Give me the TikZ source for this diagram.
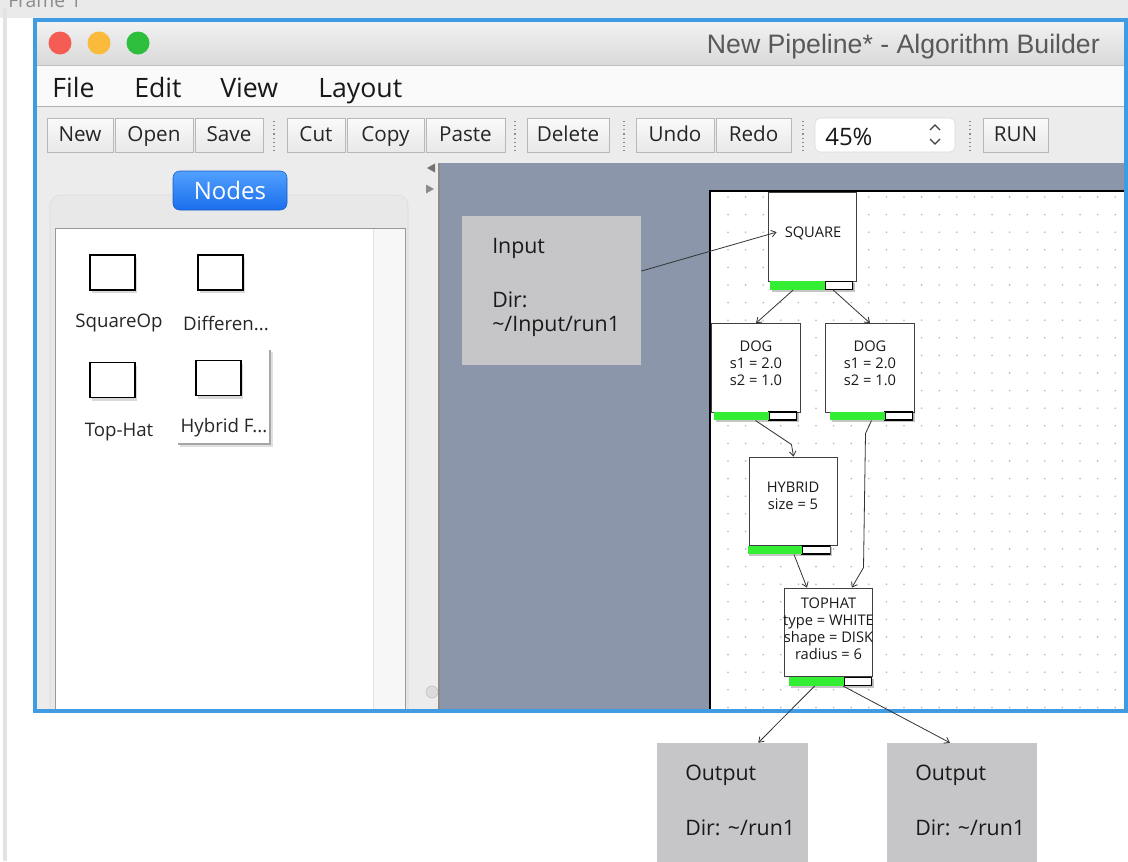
\documentclass[tikz,border=0pt]{standalone}
\usepackage{fontspec}
\setmainfont{Open Sans}
\newfontfamily\titlefont{Liberation Sans}
\usetikzlibrary{calc,shadows,arrows.meta}

\definecolor{frameblue}{RGB}{64,156,226}
\definecolor{winbg}{RGB}{236,236,236}
\definecolor{pagebg}{RGB}{234,234,234}
\definecolor{canvasbg}{RGB}{139,150,171}
\definecolor{boxgray}{RGB}{198,198,200}
\definecolor{barGreen}{RGB}{52,238,52}
\definecolor{btnline}{RGB}{184,184,184}
\definecolor{lightred}{RGB}{245,92,84}
\definecolor{lightyellow}{RGB}{250,186,60}
\definecolor{lightgreen}{RGB}{45,190,60}
\definecolor{nodestop}{RGB}{82,160,255}
\definecolor{nodesbot}{RGB}{26,110,235}

\begin{document}
\begin{tikzpicture}[x=0.75pt,y=-0.75pt,
  tb/.style={draw=btnline, top color=black!2, bottom color=black!9,
    minimum height=25.5pt, inner sep=0pt, text height=12.5pt, text depth=2.5pt,
    font=\fontsize{15.5}{18}\selectfont, text=black!85},
  menuitem/.style={anchor=base west, inner sep=0pt, font=\fontsize{20}{24}\selectfont, text=black!90},
  sepdots/.style={black!45, line width=0.9pt, dash pattern=on 0.9pt off 2.2pt},
  icon/.style={draw=black, line width=1.2pt, fill=white, minimum width=33.75pt,
    minimum height=26.25pt, inner sep=0pt,
    drop shadow={shadow xshift=1.5pt, shadow yshift=-2.5pt, opacity=0.3}},
  iconlabel/.style={font=\fontsize{14}{16}\selectfont, text=black!85, inner sep=0pt},
  opbox/.style={draw=black!75, line width=0.8pt, fill=white, minimum width=66.5pt,
    minimum height=66.5pt, inner sep=0pt},
  optext/.style={font=\fontsize{11}{12.6}\selectfont, align=center, inner sep=0pt, text=black!90},
  pbar/.style={minimum width=62.25pt, minimum height=6.4pt, inner sep=0pt,
    drop shadow={shadow xshift=1.3pt, shadow yshift=-1.3pt, opacity=0.45},
    path picture={
      \fill[white] (path picture bounding box.south west) rectangle (path picture bounding box.north east);
      \draw[black, line width=1.4pt]
        ($(path picture bounding box.south west)!0.66!(path picture bounding box.south east)$)
        rectangle (path picture bounding box.north east);
      \fill[barGreen] (path picture bounding box.south west) rectangle
        ($(path picture bounding box.north west)!0.66!(path picture bounding box.north east)$);
    }},
  iobox/.style={fill=boxgray, inner sep=0pt},
  iotext/.style={font=\fontsize{16}{19}\selectfont, anchor=west, inner sep=0pt, text=black!90},
  conn/.style={black!80, line width=0.6pt, -{Straight Barb[length=3.5pt,width=5pt]}},
]
\useasboundingbox (0,0) rectangle (1128,861);
\fill[white] (0,0) rectangle (1128,861);
\fill[pagebg] (0,0) rectangle (1128,18);
\fill[black!11] (3,8) rectangle (7,861);
\node[anchor=base west, inner sep=0pt, text=black!45, font=\fontsize{14.5}{16}\selectfont]
  (frametitle) at (8,7) {Frame 1};

\begin{scope}
\clip (36,21) rectangle (1125,711);
% window body
\fill[winbg] (36,21) rectangle (1125,711);
% title bar
\shade[top color=black!5, bottom color=black!15] (36,21) rectangle (1125,65);
\draw[black!25] (36,65) -- (1125,65);
\fill[lightred] (60,43) circle (11.5);
\fill[lightyellow] (99,43) circle (11.5);
\fill[lightgreen] (138,43) circle (11.5);
\node[anchor=base east, inner sep=0pt, text=black!65, font=\titlefont\fontsize{20}{24}\selectfont]
  (wtitle) at (1100,53) {New Pipeline* - Algorithm Builder};

% menu bar
\fill[white!98!black] (36,66) rectangle (1125,106);
\draw[black!30] (36,106.5) -- (1125,106.5);
\node[menuitem] (mfile) at (52,97) {File};
\node[menuitem] (medit) at (134,97) {Edit};
\node[menuitem] (mview) at (220,97) {View};
\node[menuitem] (mlayout) at (318,97) {Layout};

% toolbar
\node[tb, minimum width=49.5pt]  (bnew)    at (80,135)    {New};
\node[tb, minimum width=58.5pt]  (bopen)   at (154,135)   {Open};
\node[tb, minimum width=51pt]    (bsave)   at (229,135)   {Save};
\node[tb, minimum width=43.5pt]  (bcut)    at (316,135)   {Cut};
\node[tb, minimum width=57.75pt] (bcopy)   at (385.5,135) {Copy};
\node[tb, minimum width=59.25pt] (bpaste)  at (465.5,135) {Paste};
\node[tb, minimum width=61.5pt]  (bdelete) at (568,135)   {Delete};
\node[tb, minimum width=58.5pt]  (bundo)   at (675,135)   {Undo};
\node[tb, minimum width=56.25pt] (bredo)   at (753.5,135) {Redo};
\node[tb, minimum width=48.75pt] (brun)    at (1015.5,135){RUN};
\foreach \sx in {274,515,624,803,970}
  \draw[sepdots] (\sx,121) -- (\sx,151);
\draw[fill=white, draw=black!15, rounded corners=4pt] (815,118) rectangle (955,152);
\node[anchor=base west, inner sep=0pt, font=\fontsize{18}{20}\selectfont, text=black!90]
  (zoomval) at (825,145) {45\%};
\draw[black!75, line width=1pt] (930,130) -- (935,125) -- (940,130);
\draw[black!75, line width=1pt] (930,139) -- (935,144) -- (940,139);

% palette panel
\draw[fill=black!9, draw=black!14, rounded corners=8pt] (50,195) rectangle (408,740);
\draw[fill=white, draw=black!40] (55,228) rectangle (405,740);
\fill[black!3] (373.5,228.5) rectangle (404.5,740);
\draw[black!12] (373.5,229) -- (373.5,740);
\node[rounded corners=5pt, top color=nodestop, bottom color=nodesbot, draw=nodesbot!85!black,
  minimum width=85.5pt, minimum height=29.25pt, inner sep=0pt, text=white,
  font=\fontsize{18}{20}\selectfont] (nodesbtn) at (230,190.5) {Nodes};

\node[icon] (ic1) at (112.5,272.5) {};
\node[icon] (ic2) at (220.5,272.5) {};
\node[icon] (ic3) at (112.5,380) {};
\node[icon] (ic4) at (218.5,378) {};
\node[iconlabel] (lb1) at (119,323) {SquareOp};
\node[iconlabel] (lb2) at (226,323) {Differen...};
\node[iconlabel] (lb3) at (119,432) {Top-Hat};
\node[iconlabel] (lb4) at (224,428) {Hybrid F...};
\draw[black!12, line width=2pt] (180,446) -- (272,446) -- (272,352);
\draw[black!35, line width=0.8pt] (178,444) -- (270,444) -- (270,350);

% splitter
\fill[black!55] (427,168) -- (435,163.5) -- (435,172.5) -- cycle;
\fill[black!45] (434,189) -- (426,184.5) -- (426,193.5) -- cycle;
\draw[fill=black!14, draw=black!25] (432,692) circle (6);

% canvas
\fill[canvasbg] (440,163) rectangle (1125,711);
\draw[black!45, line width=1.5pt] (439,163) -- (439,711);
\fill[white] (710,191) rectangle (1125,711);
\foreach \i in {0,...,22}
  \foreach \j in {0,...,29}
    \fill[black!28] (728+17.6*\i,197+17.6*\j) circle (0.9);
\draw[black, line width=1.6pt] (710,711) -- (710,191) -- (1125,191);

% input box
\node[iobox, minimum width=134.25pt, minimum height=111.75pt] (inbox) at (551.5,290.5) {};
\node[iotext] (intitle) at (492,248) {Input};
\node[iotext] (indir) at (492,300) {Dir:};
\node[iotext] (inpath) at (492,326) {\textasciitilde/Input/run1};

% operators
\node[opbox] (sq) at (812.5,237) {};
\node[optext] (sqt) at (813,233) {SQUARE};
\node[pbar] (sqbar) at (811.5,285.5) {};

\node[opbox] (dog1) at (756,368) {};
\node[optext] (dog1t) at (756,363) {DOG\\s1 = 2.0\\s2 = 1.0};
\node[pbar] (dog1bar) at (755.5,416) {};

\node[opbox] (dog2) at (870,368) {};
\node[optext] (dog2t) at (870,363) {DOG\\s1 = 2.0\\s2 = 1.0};
\node[pbar] (dog2bar) at (871.5,416) {};

\node[opbox] (hyb) at (793.5,501.5) {};
\node[optext] (hybt) at (793,496) {HYBRID\\size = 5};
\node[pbar] (hybbar) at (789,550) {};

\node[opbox] (top) at (828.5,632.5) {};
\node[optext, font=\fontsize{11}{12.8}\selectfont] (topt) at (828.5,629) {TOPHAT\\type = WHITE\\shape = DISK\\radius = 6};
\node[pbar] (topbar) at (830.5,681.5) {};

% connectors inside the canvas
\coordinate (sqin) at ($(sq.north west)+(9,40)$);
\draw[conn] ($(inbox.north east)!0.37!(inbox.south east)$) -- (sqin);
\draw[conn] ($(sqbar.south west)!0.28!(sqbar.south east)$) -- (dog1.north);
\draw[conn] ($(sqbar.south west)!0.76!(sqbar.south east)$) -- (dog2.north);
\draw[conn] (dog1bar.south) -- ++(36,24) -- (hyb.north);
\draw[conn] (dog2bar.south) -- ++(-6,13) -- ++(-2,134) -- ($(top.north west)!0.76!(top.north east)$);
\draw[conn] ($(hybbar.south west)!0.56!(hybbar.south east)$) -- ($(top.north west)!0.26!(top.north east)$);
\end{scope}

% window frame
\draw[frameblue, line width=2.4pt] (35,20) rectangle (1126,711);

% output boxes
\node[iobox, minimum width=113.25pt, minimum height=95.25pt] (out1) at (732.5,806.5) {};
\node[iobox, minimum width=112.5pt, minimum height=95.25pt] (out2) at (962,806.5) {};
\node[iotext] (out1title) at (685,775) {Output};
\node[iotext] (out1dir) at (685,828) {Dir: \textasciitilde/run1};
\node[iotext] (out2title) at (915,775) {Output};
\node[iotext] (out2dir) at (915,828) {Dir: \textasciitilde/run1};

\draw[conn] ($(topbar.south west)!0.31!(topbar.south east)$) -- ($(out1.north west)!0.67!(out1.north east)$);
\draw[conn] ($(topbar.south west)!0.65!(topbar.south east)$) -- ($(out2.north west)!0.42!(out2.north east)$);
\end{tikzpicture}
\end{document}
